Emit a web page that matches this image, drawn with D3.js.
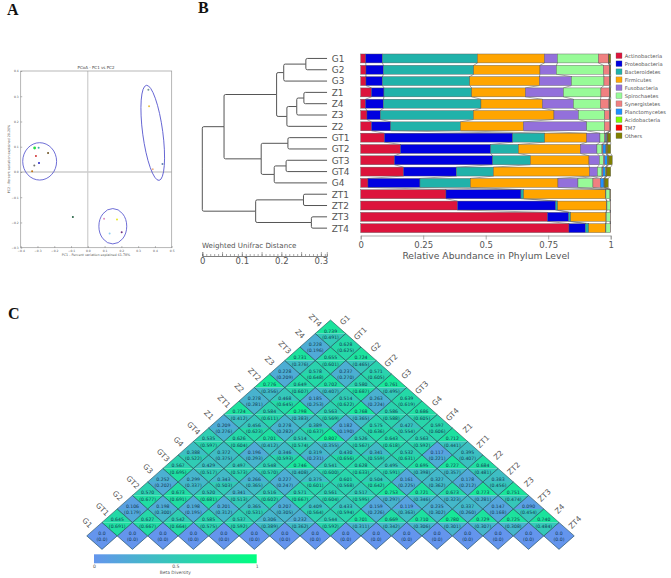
<!DOCTYPE html>
<html>
<head>
<meta charset="utf-8">
<script src="https://cdnjs.cloudflare.com/ajax/libs/d3/7.8.5/d3.min.js"></script>
<style>
html,body{margin:0;padding:0;background:#fff}
svg{display:block}
text{font-family:"DejaVu Sans",sans-serif}
</style>
</head>
<body>
<svg id="c" width="671" height="578"></svg>
<script>
// ---------- Panel A data ----------
const pcoaX = [-.317,-.293,-.309,-.237,-.291,-.319,-.332,.361,.365,.387,.445,-.089,.097,.174,.13,.202];
const pcoaY = [.095,.096,.063,.075,.036,.026,.003,.326,.26,.011,.032,-.178,-.185,-.188,-.244,-.239];
const pcoaColors = ["#22dd44","#44aaaa","#d03030","#6a5020","#2020c0","#707070","#c07010","#779999","#e8c040","#eeb080","#6080b0","#206040","#e090c0","#e8e820","#90d0f0","#703080"];
const ellipseX = [-.287,.149,.387];
const ellipseY = [.042,-.215,.155];
const ellipseRx = [.101,.083,.06];
const ellipseRy = [.074,.07,.19];
const ellipseTilt = [0,0,-7.6];
// ---------- Panel B data ----------
const samples = ["G1","G2","G3","Z1","Z4","Z3","Z2","GT1","GT2","GT3","GT4","G4","ZT1","ZT2","ZT3","ZT4"];
const phyla = ["Actinobacteria","Proteobacteria","Bacteroidetes","Firmicutes","Fusobacteria","Spirochaetes","Synergistetes","Planctomycetes","Acidobacteria","TM7","Others"];
const phylaColors = ["#DC143C","#0000E0","#20B2AA","#FFA500","#9370DB","#98FB98","#F08080","#1E90FF","#7CFC00","#FF0000","#808000"];
const actinobacteria = [2.0,2.1,2.1,4.3,1.9,2.5,4.3,9.5,15.9,13.5,17.1,2.9,34.1,38.7,74.7,83.3];
const proteobacteria = [6.7,7.0,6.6,5.0,7.2,5.4,7.7,51.3,36.1,39.3,21.2,20.8,30.0,39.3,8.5,6.6];
const bacteroidetes = [38.0,36.1,34.9,35.1,39.0,37.2,27.9,12.8,11.1,15.1,14.8,20.2,1.1,0.8,0.8,1.3];
const firmicutes = [26.8,26.5,27.9,21.5,24.6,32.2,25.2,16.8,24.8,23.4,38.4,35.0,32.8,19.6,14.1,6.8];
const fusobacteria = [5.2,6.6,12.8,15.2,12.4,9.8,25.3,5.3,6.6,4.2,3.2,8.0,0.1,0.1,0.1,0.1];
const spirochaetes = [16.4,18.8,13.0,15.0,10.8,10.5,7.1,1.8,2.0,1.6,1.8,6.0,1.6,1.3,1.6,1.7];
const synergistetes = [3.9,2.4,2.2,3.4,3.4,2.0,2.2,0.4,0.4,0.5,0.4,3.0,0.1,0.1,0.1,0.1];
const planctomycetes = [.1,.1,.1,.1,.1,.1,.05,.5,1.2,1.0,1.0,1.4,0,0,0,0];
const acidobacteria = [.1,.1,.1,.1,.1,.1,.05,.3,.3,.3,.3,.3,0,0,0,0];
const tm7 = [.1,.1,.1,.1,.1,.1,.05,.2,.2,.2,.2,.1,0,0,0,0];
const others = [.7,.2,.2,.2,.4,.1,.05,1.1,1.4,1.5,1.6,1.3,.1,0,0,0];
const phylaValues = [actinobacteria,proteobacteria,bacteroidetes,firmicutes,fusobacteria,spirochaetes,synergistetes,planctomycetes,acidobacteria,tm7,others];
const barTicks = [0,.25,.5,.75,1];
// dendrogram: [node height in distance units, children...]; leaves are sample names
const dendrogram = {h:0,c:[
  {h:.055,c:[
    {h:.188,c:[
      {h:.206,c:[{h:.262,c:["G1","G2"]},"G3"]},
      {h:.214,c:[{h:.239,c:[{h:.257,c:["Z1","Z4"]},"Z3"]},"Z2"]}
    ]},
    {h:.149,c:[
      {h:.2166,c:["GT1","GT2"]},
      {h:.182,c:[{h:.212,c:["GT3","GT4"]},"G4"]}
    ]}
  ]},
  {h:.135,c:[{h:.256,c:["ZT1","ZT2"]},{h:.276,c:["ZT3","ZT4"]}]}
]};
const leafHeight = .3156;
// ---------- Panel C data ----------
const heatSamples = ["G1","GT1","G2","GT2","G3","GT3","G4","GT4","Z1","ZT1","Z2","ZT2","Z3","ZT3","Z4","ZT4"];
const unweighted = [
 [0,0,0,0,0,0,0,0,0,0,0,0,0,0,0,0],
 [.645,.627,.542,.585,.537,.306,.232,.544,.701,.669,.710,.780,.729,.725,.740],
 [.106,.198,.198,.201,.365,.207,.409,.433,.159,.119,.235,.337,.147,.090],
 [.570,.673,.520,.341,.516,.571,.561,.517,.753,.721,.673,.773,.751],
 [.252,.299,.343,.266,.227,.375,.601,.504,.161,.327,.178,.383],
 [.567,.429,.497,.548,.746,.541,.628,.495,.695,.727,.684],
 [.388,.372,.196,.346,.319,.430,.341,.532,.117,.395],
 [.535,.626,.701,.514,.807,.526,.643,.563,.712],
 [.209,.456,.278,.389,.182,.575,.427,.597],
 [.724,.584,.798,.563,.768,.586,.686],
 [.278,.468,.185,.514,.263,.639],
 [.776,.649,.702,.580,.761],
 [.228,.578,.237,.571],
 [.731,.655,.724],
 [.228,.628],
 [.739]
];
const weighted = [
 [0,0,0,0,0,0,0,0,0,0,0,0,0,0,0,0],
 [.691,.667,.664,.575,.592,.389,.362,.592,.311,.342,.306,.301,.307,.308,.484],
 [.179,.300,.195,.312,.531,.305,.564,.594,.226,.363,.302,.260,.168,.454],
 [.677,.691,.681,.513,.602,.667,.604,.595,.297,.346,.323,.281,.474],
 [.202,.337,.503,.365,.247,.601,.568,.642,.225,.362,.212,.456],
 [.695,.517,.573,.570,.408,.600,.633,.591,.398,.357,.481],
 [.522,.375,.293,.593,.231,.656,.559,.631,.221,.407],
 [.597,.604,.412,.574,.355,.567,.618,.592,.441],
 [.276,.623,.282,.637,.190,.636,.554,.606],
 [.412,.611,.383,.569,.365,.588,.605],
 [.281,.645,.253,.622,.224,.619],
 [.356,.607,.407,.687,.495],
 [.209,.648,.270,.605],
 [.376,.601,.465],
 [.196,.625],
 [.491]
];
const betaTicks = [0,.5,1];

const svg = d3.select("#c");
const gray = "#555";

// panel letters
[["A",7,15],["B",198,13],["C",8,319]].forEach(([t,x,y])=>{
  svg.append("text").attr("x",x).attr("y",y).text(t)
    .style("font-family","'Liberation Serif',serif").style("font-weight","bold").style("font-size","16px").attr("fill","#111");
});

// ========== Panel A ==========
(function(){
  const x = d3.scaleLinear().domain([-.4,.5]).range([20.7,171.7]);
  const y = d3.scaleLinear().domain([-.3,.4]).range([247.7,71]);
  const g = svg.append("g");
  g.append("line").attr("x1",x(0)).attr("x2",x(0)).attr("y1",y(.4)).attr("y2",y(-.3)).attr("stroke","#aaa").attr("stroke-width",.7);
  g.append("line").attr("x1",x(-.4)).attr("x2",x(.5)).attr("y1",y(0)).attr("y2",y(0)).attr("stroke","#ccc").attr("stroke-width",1.6);
  g.append("rect").attr("x",x(-.4)).attr("y",y(.4)).attr("width",x(.5)-x(-.4)).attr("height",y(-.3)-y(.4)).attr("fill","none").attr("stroke","#999").attr("stroke-width",.7);
  const ax = g.append("g").attr("transform",`translate(0,${y(-.3)})`).call(d3.axisBottom(x).tickValues(d3.range(-4,6).map(d=>d/10)).tickSize(-1.5).tickPadding(2).tickFormat(d3.format(".1f")));
  const ay = g.append("g").attr("transform",`translate(${x(-.4)},0)`).call(d3.axisLeft(y).tickValues(d3.range(-3,5).map(d=>d/10)).tickSize(-1.5).tickPadding(2).tickFormat(d3.format(".1f")));
  [ax,ay].forEach(a=>{a.select(".domain").remove();a.selectAll("line").attr("stroke","#666").attr("stroke-width",.5);a.selectAll("text").attr("fill","#555").style("font-size","3px");});
  g.append("text").attr("x",96).attr("y",68.8).attr("text-anchor","middle").style("font-size","4px").attr("fill","#444").text("PCoA - PC1 vs PC2");
  g.append("text").attr("x",96).attr("y",256).attr("text-anchor","middle").style("font-size","3.3px").attr("fill","#555").text("PC1 - Percent variation explained 61.78%");
  g.append("text").attr("transform","translate(9.8,159) rotate(-90)").attr("text-anchor","middle").style("font-size","3.3px").attr("fill","#555").text("PC2 - Percent variation explained 20.20%");
  g.selectAll("ellipse").data(ellipseX).join("ellipse")
    .attr("transform",(d,i)=>`translate(${x(d)},${y(ellipseY[i])}) rotate(${ellipseTilt[i]})`)
    .attr("rx",(d,i)=>x(ellipseRx[i])-x(0)).attr("ry",(d,i)=>y(0)-y(ellipseRy[i]))
    .attr("fill","none").attr("stroke","#4a4acb").attr("stroke-width",.8);
  g.selectAll("circle").data(pcoaX).join("circle")
    .attr("cx",d=>x(d)).attr("cy",(d,i)=>y(pcoaY[i])).attr("r",(d,i)=>i==0?1.4:1).attr("fill",(d,i)=>pcoaColors[i]);
})();

// ========== Panel B ==========
const rowY = d3.scaleBand().domain(samples).range([51.6,235]).padding(.21);
const rowC = s => rowY(s)+rowY.bandwidth()/2;
(function(){
  // dendrogram
  const dx = d3.scaleLinear().domain([0,.315]).range([202.3,326.8]);
  const g = svg.append("g").attr("fill","none").attr("stroke","#555").attr("stroke-width",1);
  function walk(n){
    if(typeof n==="string"){ return {x:dx(leafHeight),y:rowC(n),h:leafHeight}; }
    const kids = n.c.map(walk);
    const yc = d3.mean(kids,k=>k.y), xn = dx(n.h), r=1.5;
    kids.forEach(k=>{
      const dir = k.y<yc?-1:1;
      const p = d3.path();
      p.moveTo(xn,yc);
      p.lineTo(xn,k.y-dir*r);
      p.quadraticCurveTo(xn,k.y,xn+r,k.y);
      p.lineTo(k.x,k.y);
      g.append("path").attr("d",p.toString());
    });
    return {x:xn,y:yc,h:n.h};
  }
  walk(dendrogram);
  svg.append("g").selectAll("text").data(samples).join("text")
    .attr("x",331.7).attr("y",d=>rowC(d)+3.4).attr("fill",gray).style("font-size","9px").text(d=>d);
  // distance scale
  const sg = svg.append("g").attr("transform","translate(0,256)");
  svg.append("text").attr("x",202).attr("y",247.5).attr("fill",gray).style("font-size","7.1px").text("Weighted Unifrac Distance");
  const minor = sg.append("g").call(d3.axisTop(dx).tickValues(d3.range(0,32).map(d=>d/100)).tickSize(2).tickFormat(""));
  const major = sg.append("g").call(d3.axisTop(dx).tickValues([0,.05,.1,.15,.2,.25,.3]).tickSize(4).tickFormat(""));
  [minor,major].forEach(a=>{a.selectAll("line,path").attr("stroke","#555").attr("stroke-width",.5);});
  const lab = sg.append("g").call(d3.axisBottom(dx).tickValues([0,.1,.2,.3]).tickSize(0).tickPadding(2).tickFormat(d=>d===0?"0":d3.format(".1f")(d)));
  lab.select(".domain").remove();
  lab.selectAll("text").attr("fill",gray).style("font-size","8.5px");

  // stacked bars
  const x = d3.scaleLinear().domain([0,100]).range([360.7,610.7]);
  const table = samples.map((s,i)=>{const o={sample:s};phyla.forEach((p,j)=>o[p]=phylaValues[j][i]);return o;});
  const stack = d3.stack().keys(phyla)(table);
  const bars = svg.append("g");
  // connecting lines between neighbouring bars
  const conn = d3.line().x(d=>d[0]).y(d=>d[1]);
  stack.forEach(layer=>{
    layer.forEach((d,i)=>{
      if(i===layer.length-1) return;
      const n = layer[i+1];
      bars.append("path").attr("d",conn([[x(d[1]),rowY(samples[i])+rowY.bandwidth()],[x(n[1]),rowY(samples[i+1])]]))
        .attr("fill","none").attr("stroke","#666").attr("stroke-width",.6);
    });
  });
  stack.forEach((layer,j)=>{
    bars.append("g").selectAll("rect").data(layer).join("rect")
      .attr("x",d=>x(d[0])).attr("width",d=>x(d[1])-x(d[0]))
      .attr("y",(d,i)=>rowY(samples[i])).attr("height",rowY.bandwidth())
      .attr("fill",phylaColors[j]).attr("stroke","#555").attr("stroke-width",.4);
  });
  const xa = svg.append("g").attr("transform","translate(0,235.5)").call(d3.axisBottom(x).tickValues(barTicks.map(d=>d*100)).tickSize(4).tickPadding(2).tickFormat((d,i)=>["0","0.25","0.5","0.75","1"][i]));
  xa.selectAll("line,path").attr("stroke","#888").attr("stroke-width",.7);
  xa.selectAll("text").attr("fill",gray).style("font-size","8.5px");
  svg.append("text").attr("x",486).attr("y",259).attr("text-anchor","middle").attr("fill",gray).style("font-size","9.2px").text("Relative Abundance in Phylum Level");
  // legend
  const ly = d3.scalePoint().domain(phyla).range([55.7,135.7]);
  const lg = svg.append("g");
  lg.selectAll("rect").data(phyla).join("rect").attr("x",616).attr("y",d=>ly(d)-2.8).attr("width",6).attr("height",5.6)
    .attr("fill",(d,i)=>phylaColors[i]).attr("stroke","#666").attr("stroke-width",.3);
  lg.selectAll("text").data(phyla).join("text").attr("x",624.7).attr("y",d=>ly(d)+1.9).attr("fill",gray).style("font-size","5.2px").text(d=>d);
})();

// ========== Panel C ==========
(function(){
  const col = d3.scaleLinear().domain([0,1]).range(["#6495ED","#00FF7F"]);
  const step = 30.47, hw = step/2, hh = 13.49;
  const px = d3.scaleLinear().domain([0,15]).range([102,559]);
  const py = d3.scaleLinear().domain([0,15]).range([535.9,333.5]);
  const g = svg.append("g");
  const fmt = d3.format(".3f");
  const cells = [];
  unweighted.forEach((row,d)=>row.forEach((v,k)=>cells.push({d,k,top:v,bot:weighted[d][k]})));
  const cell = g.selectAll("g").data(cells).join("g")
    .attr("transform",d=>`translate(${px(d.k+d.d/2)},${py(d.d)})`);
  cell.append("path").attr("d",`M${-hw},0L0,${-hh}L${hw},0Z`).attr("fill",d=>col(d.top));
  cell.append("path").attr("d",`M${-hw},0L0,${hh}L${hw},0Z`).attr("fill",d=>col(d.bot));
  cell.append("path").attr("d",`M${-hw},0L0,${-hh}L${hw},0L0,${hh}Z`).attr("fill","none").attr("stroke","#1d4a52").attr("stroke-width",.6);
  cell.append("text").attr("text-anchor","middle").attr("y",-1).attr("fill","#123a50").style("font-size","4.6px").text(d=>d.d===0?"0.0":fmt(d.top));
  cell.append("text").attr("text-anchor","middle").attr("y",5.2).attr("fill","#123a50").style("font-size","4.6px").text(d=>d.d===0?"(0.0)":`(${fmt(d.bot)})`);
  // side labels
  g.append("g").selectAll("text").data(heatSamples).join("text")
    .attr("transform",(d,i)=>`translate(${87.3+15.2*i},${522.7-13.49*i}) rotate(45)`)
    .attr("text-anchor","middle").attr("dy","0.35em").attr("fill",gray).style("font-size","7.5px").text(d=>d);
  g.append("g").selectAll("text").data(heatSamples).join("text")
    .attr("transform",(d,i)=>`translate(${345+15.33*i},${320+13.49*i}) rotate(-45)`)
    .attr("text-anchor","middle").attr("dy","0.35em").attr("fill",gray).style("font-size","7.5px").text(d=>d);
  // colour bar
  const defs = svg.append("defs");
  const grad = defs.append("linearGradient").attr("id","beta");
  betaTicks.forEach(t=>grad.append("stop").attr("offset",t).attr("stop-color",col(t)));
  const bx = d3.scaleLinear().domain([0,1]).range([94,256.7]);
  svg.append("rect").attr("x",bx(0)).attr("y",554.3).attr("width",bx(1)-bx(0)).attr("height",9).attr("fill","url(#beta)");
  const ba = svg.append("g").attr("transform","translate(0,563.3)").call(d3.axisBottom(bx).tickValues(betaTicks).tickSize(0).tickPadding(1.5).tickFormat(d=>String(d)));
  ba.select(".domain").remove();
  ba.selectAll("text").attr("fill",gray).style("font-size","4.6px");
  svg.append("text").attr("x",bx(.5)).attr("y",574).attr("text-anchor","middle").attr("fill",gray).style("font-size","4.4px").text("Beta Diversity");
})();
</script>
</body>
</html>
